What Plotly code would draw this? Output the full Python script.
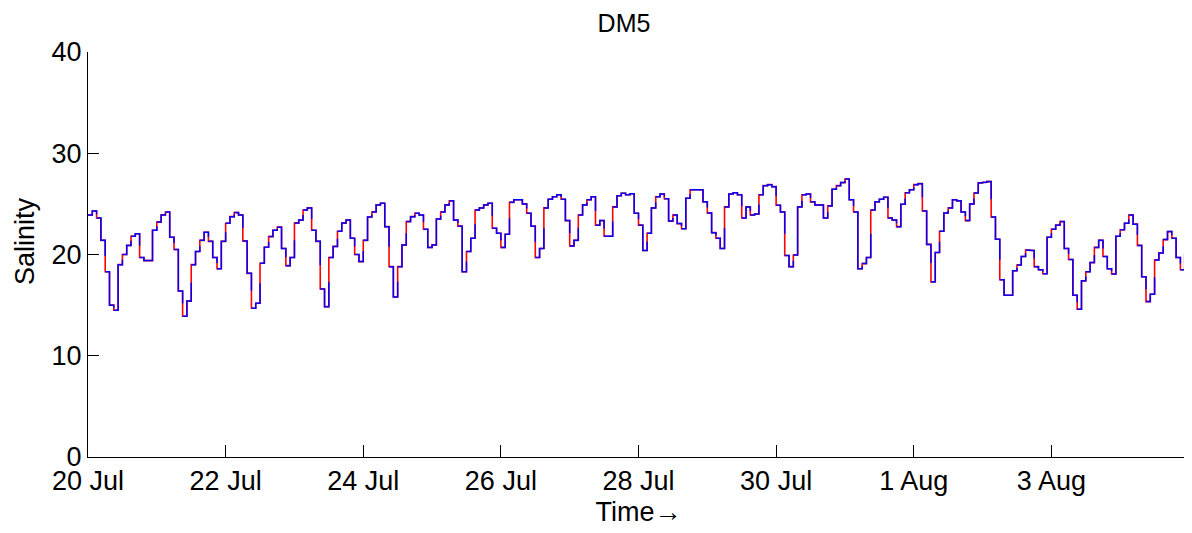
import plotly.graph_objects as go
from datetime import datetime, timedelta

# Salinity at DM5, one reading every 1.5 hours starting 20 Jul 00:00
start_time = datetime(2012, 7, 20)
step_hours = 1.5
salinity = [
    23.9, 24.3, 23.6, 21.4, 18.3, 15.0, 14.5, 19.0, 20.0, 20.9, 21.8, 22.05, 19.7, 19.4, 19.4, 22.4,
    23.2, 23.9, 24.2, 21.7, 20.5, 16.4, 13.9, 15.4, 19.0, 20.3, 21.4, 22.2, 21.3, 19.7, 18.6, 21.3,
    23.08, 23.74, 24.14, 23.9, 21.34, 18.14, 14.69, 15.18, 19.13, 20.71, 21.77, 22.4, 22.7, 20.6, 18.9, 19.7,
    23.1, 23.4, 24.4, 24.6, 22.4, 21.3, 16.6, 14.85, 19.7, 20.8, 22.3, 23.1, 23.4, 21.6, 20.0, 19.3,
    21.4, 23.7, 24.2, 24.9, 25.06, 22.75, 18.8, 15.8, 18.8, 20.95, 23.25, 23.74, 24.07, 23.9, 22.5, 20.7,
    20.95, 23.5, 24.2, 24.9, 25.3, 23.4, 22.8, 18.3, 20.3, 21.6, 24.4, 24.6, 24.9, 25.06, 22.6, 22.1,
    20.7, 22.0, 25.15, 25.4, 25.4, 25.0, 24.07, 22.8, 19.7, 20.6, 24.6, 25.45, 25.7, 25.9, 25.45, 23.35,
    20.85, 21.4, 23.9, 24.9, 25.4, 25.7, 22.9, 23.35, 21.8, 21.8, 24.7, 25.8, 26.05, 25.9, 26.0, 24.07,
    22.9, 20.4, 22.1, 24.6, 25.7, 25.98, 25.5, 23.3, 23.9, 23.05, 22.55, 25.55, 26.4, 26.4, 26.4, 25.2,
    24.1, 22.16, 21.6, 20.6, 24.7, 25.98, 26.1, 25.9, 23.6, 24.7, 23.9, 24.0, 25.9, 26.8, 26.9, 26.7,
    24.86, 24.2, 19.9, 18.8, 19.95, 24.7, 25.9, 25.98, 25.2, 24.9, 24.9, 23.6, 24.8, 26.45, 26.8, 27.1,
    27.46, 25.4, 24.2, 18.6, 19.1, 19.7, 24.4, 25.2, 25.45, 25.65, 23.6, 23.4, 22.75, 24.96, 26.1, 26.4,
    26.9, 27.0, 24.3, 21.0, 17.3, 20.2, 22.3, 24.1, 24.6, 25.4, 25.3, 24.2, 23.35, 25.0, 26.08, 27.07,
    27.13, 27.2, 23.7, 21.5, 17.5, 15.97, 15.97, 18.4, 18.97, 19.8, 20.45, 20.4, 18.8, 18.5, 18.1, 21.7,
    22.5, 22.9, 23.25, 20.6, 19.5, 15.97, 14.6, 17.4, 18.3, 19.2, 20.7, 21.4, 19.8, 18.6, 18.08, 21.8,
    22.45, 23.08, 23.9, 23.0, 20.9, 17.8, 15.35, 16.07, 19.46, 20.15, 21.47, 22.26, 21.6, 19.7, 18.5, 19.99,
    22.9,
]

x_range = [datetime(2012, 7, 20), datetime(2012, 8, 5)]
tick_start = datetime(2012, 7, 20)
tick_step_days = 2
y_ticks = [0, 10, 20, 30, 40]

times = [start_time + timedelta(hours=step_hours * i) for i in range(len(salinity))]

# blue path: same steps, but some vertical transitions only partly covered so the red shows through
bx, by = [times[0]], [salinity[0]]
for k in range(len(salinity) - 1):
    t1 = times[k + 1]
    v0, v1 = salinity[k], salinity[k + 1]
    bx.append(t1); by.append(v0)
    if k % 2 == 1 and abs(v1 - v0) > 0.3:
        mid = v0 + 0.5 * (v1 - v0)
        bx += [t1, None, t1]
        by += [mid, None, v1]
    else:
        bx.append(t1); by.append(v1)

fig = go.Figure()
fig.add_trace(go.Scatter(x=times, y=salinity, mode="lines",
                         line=dict(color="#ff0000", width=1.6, shape="hv"),
                         hoverinfo="skip", connectgaps=False))
fig.add_trace(go.Scatter(x=bx, y=by, mode="lines",
                         line=dict(color="#0000ff", width=1.5),
                         hoverinfo="skip", connectgaps=False))

FONT = "Arial, Liberation Sans, Helvetica, sans-serif"
# page has an 8px body margin, so the figure is 8px smaller and everything shifted by 8px
W, H = 1184, 525
L, R, T, B = 80, 3, 44, 76
plot_w, plot_h = W - L - R, H - T - B
fig.update_layout(
    width=W, height=H,
    margin=dict(l=L, r=R, t=T, b=B),
    plot_bgcolor="white", paper_bgcolor="white",
    showlegend=False,
    font=dict(family=FONT, size=27, color="black"),
    title=dict(text="DM5", x=616 / W, xanchor="center", y=1 - 15 / H, yanchor="middle",
               font=dict(family=FONT, size=25, color="black")),
)
fig.add_annotation(
    text="Salinity", textangle=-90, showarrow=False,
    xref="paper", yref="paper",
    x=(17 - L) / plot_w, y=(H - B - 233) / plot_h,
    xanchor="center", yanchor="middle",
    font=dict(family=FONT, size=27, color="black"),
)
fig.update_xaxes(
    type="date", range=x_range, automargin=False,
    tick0=tick_start, dtick=tick_step_days * 86400000, tickformat="%-d %b",
    ticks="inside", ticklen=12, tickcolor="black", tickwidth=1,
    showline=True, linecolor="black", linewidth=1, mirror=False,
    showgrid=False, zeroline=False,
    tickfont=dict(family=FONT, size=27, color="black"),
    title=dict(text="Time\u2192", standoff=6, font=dict(family=FONT, size=27, color="black")),
)
fig.update_yaxes(
    range=[0, 40], tickvals=y_ticks, automargin=False,
    ticks="inside", ticklen=11, tickcolor="black", tickwidth=1,
    showline=True, linecolor="black", linewidth=1, mirror=False,
    showgrid=False, zeroline=False,
    tickfont=dict(family=FONT, size=27, color="black"),
)

fig.write_html("out.html")
